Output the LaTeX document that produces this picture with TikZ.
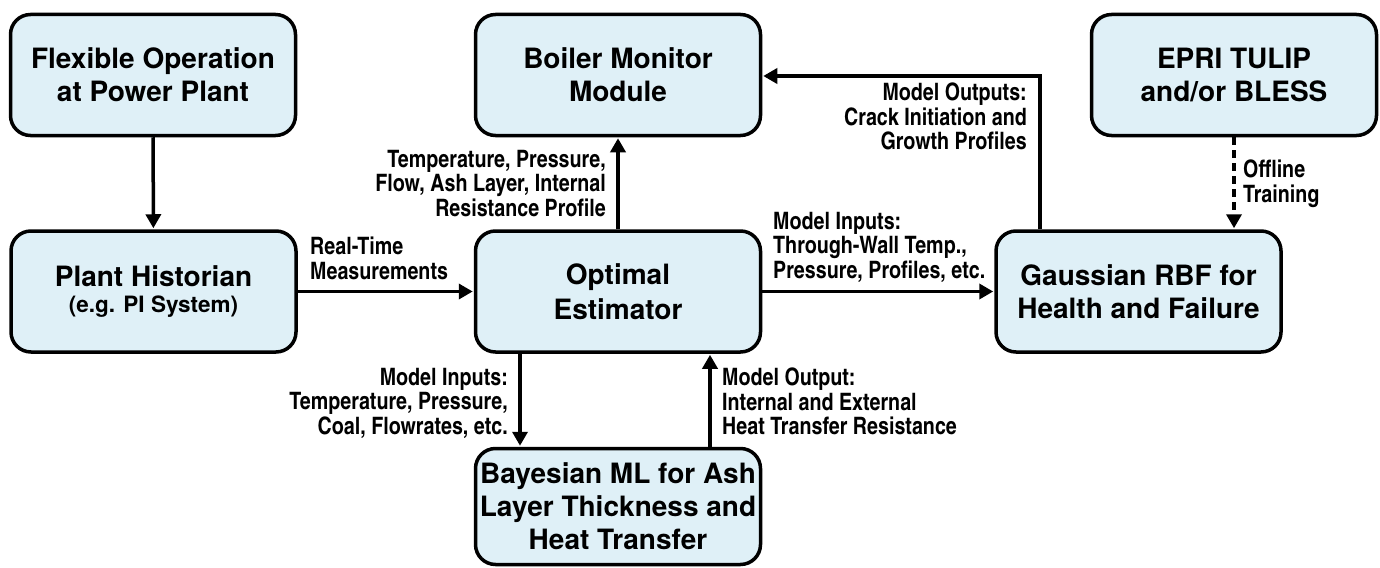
\documentclass[tikz,border=0pt]{standalone}
\usepackage{fontspec}
\setmainfont{TeX Gyre Heros}
\newfontfamily\lblfont{texgyreheroscn-bold.otf}
\usetikzlibrary{arrows.meta}
\definecolor{boxblue}{RGB}{223,240,247}
\begin{document}
\begin{tikzpicture}[x=1pt,y=-1pt,
  box/.style={draw=black, line width=3.5pt, rounded corners=20pt, fill=boxblue,
    minimum width=285pt, minimum height=121pt, align=center, inner sep=0pt,
    font=\bfseries\fontsize{28}{33}\selectfont},
  lbl/.style={inner sep=0pt, font=\lblfont\fontsize{24}{24.3}\selectfont},
  conn/.style={line width=3.5pt, -{Triangle[length=14pt,width=15pt]}, shorten >=1pt},
]
\useasboundingbox (0,0) rectangle (1380,567);

\node[box] (flex) at (153,75) {Flexible Operation\\at Power Plant};
\node[box] (hist) at (153.5,291.5) {Plant Historian\\[-7pt]{\fontsize{22.5}{26}\selectfont(e.g. PI System)}};
\node[box] (boil) at (618,75) {Boiler Monitor\\Module};
\node[box] (opt) at (618,291.5) {Optimal\\[2pt]Estimator};
\node[box, minimum height=116pt] (bayes) at (618,506.5) {Bayesian ML for Ash\\Layer Thickness and\\Heat Transfer};
\node[box] (gauss) at (1138.5,291.5) {Gaussian RBF for\\Health and Failure};
\node[box] (epri) at (1234,75) {EPRI TULIP\\and/or BLESS};

\coordinate (gb) at (1040,76);
\coordinate (xd) at (520,0);
\coordinate (xu) at (710,0);

\draw[conn] (flex) -- (hist);
\draw[conn] (hist) -- (opt);
\draw[conn] (opt.north) -- (boil.south);
\draw[conn] (opt) -- (gauss);
\draw[conn] (gauss.north -| gb) -- (gb) -- (boil.east |- gb);
\draw[conn, dash pattern=on 8pt off 5pt] (epri.south) -- (epri.south |- gauss.north);
\draw[conn] (opt.south -| xd) -- (bayes.north -| xd);
\draw[conn] (bayes.north -| xu) -- (opt.south -| xu);

\node[lbl, anchor=north west, align=left] (l1) at (310,237) {Real-Time\\Measurements};
\node[lbl, anchor=north east, align=right] (l2) at (606,150) {Temperature, Pressure,\\Flow, Ash Layer, Internal\\Resistance Profile};
\node[lbl, anchor=north west, align=left] (l3) at (773,212) {Model Inputs:\\Through-Wall Temp.,\\Pressure, Profiles, etc.};
\node[lbl, anchor=north east, align=right] (l4) at (1027,83) {Model Outputs:\\Crack Initiation and\\Growth Profiles};
\node[lbl, anchor=north west, align=left] (l5) at (1243,160) {Offline\\Training};
\node[lbl, anchor=north east, align=right] (l6) at (508,368) {Model Inputs:\\Temperature, Pressure,\\Coal, Flowrates, etc.};
\node[lbl, anchor=north west, align=left] (l7) at (722,368) {Model Output:\\Internal and External\\Heat Transfer Resistance};
\end{tikzpicture}
\end{document}
